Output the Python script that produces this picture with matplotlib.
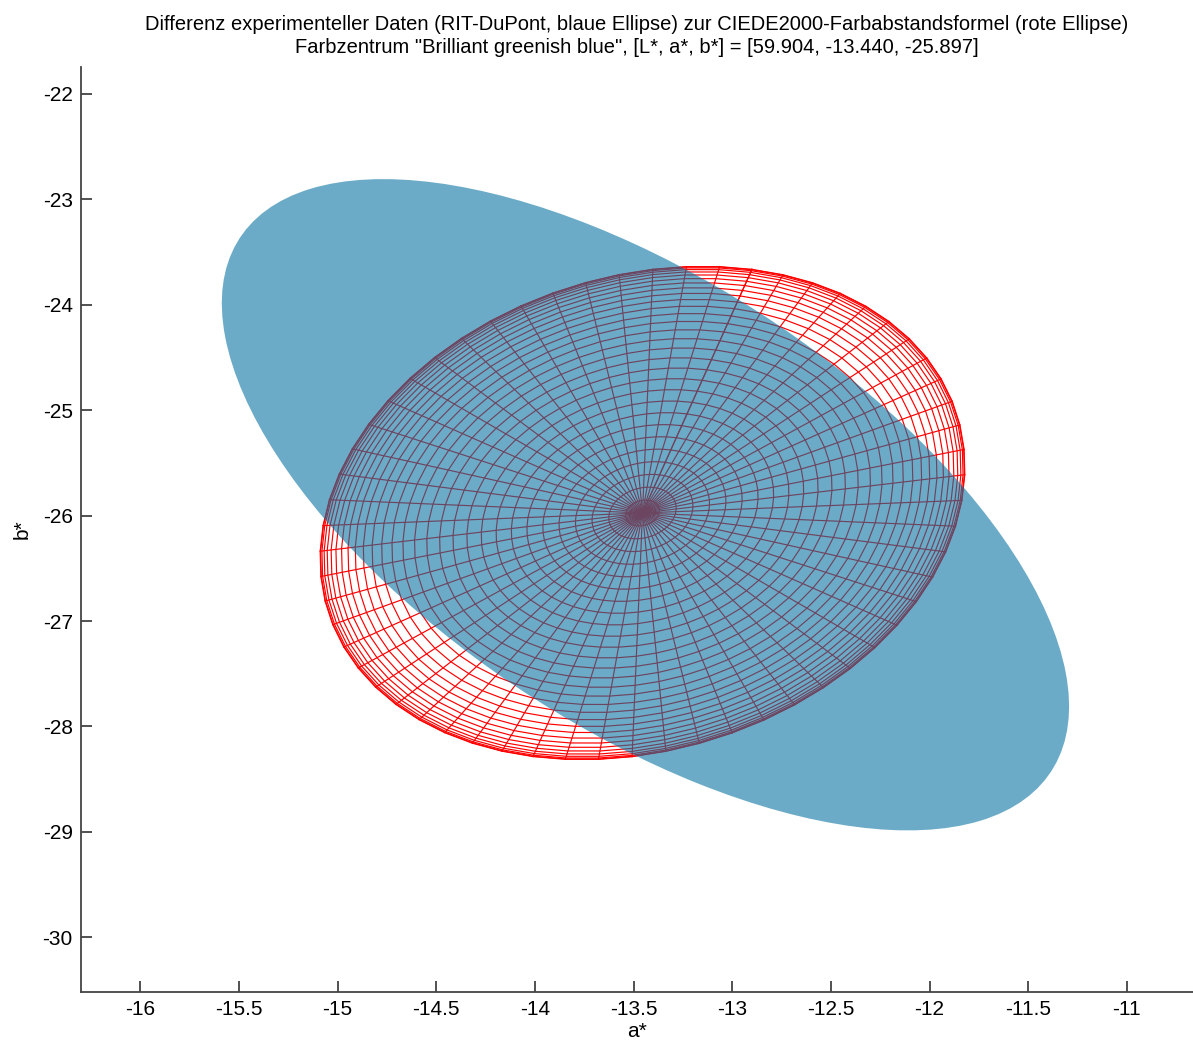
"""Vergleich RIT-DuPont Ellipse vs. CIEDE2000 Ellipsoid (Draufsicht a*-b*)"""

import matplotlib
matplotlib.use("Agg")
import matplotlib.pyplot as plt
from matplotlib.patches import Ellipse
import numpy as np

# Farbzentrum (aus dem Titel)
center_Lab = [59.904, -13.440, -25.897]

# blaue Ellipse (RIT-DuPont), in a*/b*-Einheiten
blue_center = [-13.44, -25.897]
blue_semi = [3.445, 1.512]      # Halbachsen
blue_angle = -60.5              # Grad

# rote Ellipse (CIEDE2000), Umriss und Gitter
red_center = [-13.455, -25.975]
red_semi = [2.377, 1.581]
red_angle = 76.5
n_mesh = 60

xticks = [-16, -15.5, -15, -14.5, -14, -13.5, -13, -12.5, -12, -11.5, -11]
yticks = [-22, -23, -24, -25, -26, -27, -28, -29, -30]

title = ("Differenz experimenteller Daten (RIT-DuPont, blaue Ellipse) zur "
         "CIEDE2000-Farbabstandsformel (rote Ellipse)\n"
         "Farbzentrum \"Brilliant greenish blue\", [L*, a*, b*] = "
         "[%.3f, %.3f, %.3f]" % tuple(center_Lab))

plt.rcParams['font.family'] = ['Liberation Sans', 'DejaVu Sans']


def ellipsoid_mesh(center, semi, angle_deg, n):
    # obere Haelfte eines Ellipsoids, von oben projiziert
    th = np.deg2rad(angle_deg)
    u = np.array([np.cos(th), np.sin(th)])
    v = np.array([-np.sin(th), np.cos(th)])
    phi = np.linspace(0, np.pi / 2, n // 2 + 1)
    t = np.linspace(0, 2 * np.pi, n + 1)
    P, T = np.meshgrid(phi, t, indexing='ij')
    r = np.cos(P)
    X = center[0] + r * (semi[0] * np.cos(T) * u[0] + semi[1] * np.sin(T) * v[0])
    Y = center[1] + r * (semi[0] * np.cos(T) * u[1] + semi[1] * np.sin(T) * v[1])
    return X, Y


fig = plt.figure(figsize=(11.93, 10.47), dpi=100)
ax = fig.add_axes([0.068, 0.0525, 0.932, 0.8835])

X, Y = ellipsoid_mesh(red_center, red_semi, red_angle, n_mesh)
for i in range(X.shape[0]):
    ax.plot(X[i], Y[i], color='#ff0000', lw=0.85, zorder=1)
for j in range(X.shape[1]):
    ax.plot(X[:, j], Y[:, j], color='#ff0000', lw=0.85, zorder=1)

blue = Ellipse(blue_center, 2 * blue_semi[0], 2 * blue_semi[1], angle=blue_angle,
               facecolor='#0a74a2', edgecolor='none', alpha=0.6, zorder=2)
ax.add_patch(blue)

ax.set_xlim(-16.30, -10.665)
ax.set_ylim(-30.52, -21.744)
ax.set_xticks(xticks)
ax.set_xticklabels(['%g' % v for v in xticks])
ax.set_yticks(yticks)
ax.set_yticklabels(['%g' % v for v in yticks])

for s in ['top', 'right']:
    ax.spines[s].set_visible(False)
for s in ['left', 'bottom']:
    ax.spines[s].set_color('#444444')
    ax.spines[s].set_linewidth(1.3)
ax.tick_params(direction='in', length=8, width=1.1, color='#222222',
               labelsize=15, pad=6)

ax.set_xlabel('a*', fontsize=15, labelpad=2)
ax.set_ylabel('b*', fontsize=15, labelpad=8)
ax.set_title(title, fontsize=14.5, pad=10, linespacing=1.25)

fig.savefig('out.png', dpi=100)
